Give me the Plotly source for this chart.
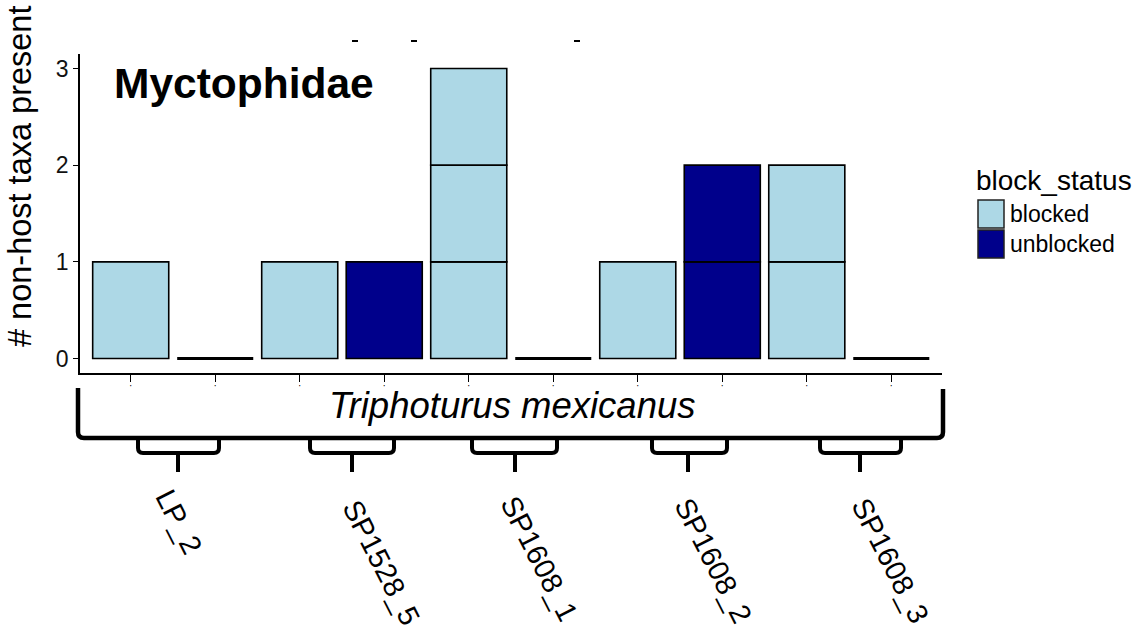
import plotly.graph_objects as go

# ---- data ----
samples = ["LP_2", "SP1528_5", "SP1608_1", "SP1608_2", "SP1608_3"]
statuses = ["blocked", "unblocked"]
blocked_counts = [1, 1, 3, 1, 2]
unblocked_counts = [0, 1, 0, 2, 0]
status_colors = {"blocked": "#ADD8E6", "unblocked": "#00008B"}
y_ticks = [0, 1, 2, 3]
panel_title = "Myctophidae"
species_label = "Triphoturus mexicanus"
y_title = "# non-host taxa present"
legend_title = "block_status"

# bar order: sample x status
bar_x, bar_status, bar_count = [], [], []
pos = 1
for s, b, u in zip(samples, blocked_counts, unblocked_counts):
    for st, c in (("blocked", b), ("unblocked", u)):
        bar_x.append(pos)
        bar_status.append(st)
        bar_count.append(c)
        pos += 1

FONT = "Liberation Sans, Arial, Helvetica, sans-serif"
W, H = 1139, 635
L, R, T, B = 80, 942, 54, 373  # plot area pixel box

def px(x):
    return (x - L) / (R - L)

def py(y):
    return (B - y) / (B - T)

def P(x, y):
    return f"{px(x):.5f},{py(y):.5f}"

fig = go.Figure()
BW = 0.9
max_c = max(bar_count)
for k in range(1, max_c + 1):
    xs = [x for x, c in zip(bar_x, bar_count) if c >= k]
    cols = [status_colors[s] for s, c in zip(bar_status, bar_count) if c >= k]
    fig.add_trace(go.Bar(
        x=xs, y=[1] * len(xs), base=[k - 1] * len(xs), width=BW,
        marker=dict(color=cols, line=dict(color="black", width=1.6)),
        showlegend=False, hoverinfo="skip",
    ))
# zero-height bars drawn as flat outlines
for x, c in zip(bar_x, bar_count):
    if c == 0:
        fig.add_trace(go.Scatter(
            x=[x - BW / 2, x + BW / 2], y=[0, 0], mode="lines",
            line=dict(color="black", width=3), showlegend=False, hoverinfo="skip",
        ))

shapes = []
# big bracket
big = (f"M {P(78,388)} L {P(78,432)} Q {P(78,438)} {P(84,438)} "
       f"L {P(937,438)} Q {P(943,438)} {P(943,432)} L {P(943,389)}")
shapes.append(dict(type="path", xref="paper", yref="paper", path=big,
                   line=dict(color="black", width=4.5)))
sub = [(138, 219, 178), (310, 394, 352), (472, 557, 515), (652, 727, 688), (820, 901, 860)]
for xl, xr, xs in sub:
    p = (f"M {P(xl,438)} L {P(xl,448)} Q {P(xl,453)} {P(xl+5,453)} "
         f"L {P(xr-5,453)} Q {P(xr,453)} {P(xr,448)} L {P(xr,438)}")
    shapes.append(dict(type="path", xref="paper", yref="paper", path=p,
                       line=dict(color="black", width=4)))
    shapes.append(dict(type="line", xref="paper", yref="paper",
                       x0=px(xs), x1=px(xs), y0=py(453), y1=py(472),
                       line=dict(color="black", width=4)))
# stray marks at top (remnants of panel above)
for xm in (355, 414, 577):
    shapes.append(dict(type="line", xref="paper", yref="paper",
                       x0=px(xm - 3), x1=px(xm + 3), y0=py(41), y1=py(41),
                       line=dict(color="black", width=2)))
# legend keys
for i, st in enumerate(statuses):
    y0 = 200 + i * 30
    shapes.append(dict(type="rect", xref="paper", yref="paper",
                       x0=px(978), x1=px(1004), y0=py(y0), y1=py(y0 + 28),
                       fillcolor=status_colors[st], line=dict(color="#222", width=1.5)))

ann = []
ann.append(dict(text=panel_title, xref="paper", yref="paper", x=px(112), y=py(83),
                xanchor="left", yanchor="middle", showarrow=False,
                font=dict(family=FONT, size=42.5, color="black", weight="bold")))
ann.append(dict(text=f"<i>{species_label}</i>", xref="paper", yref="paper",
                x=px(512), y=py(405), xanchor="center", yanchor="middle", showarrow=False,
                font=dict(family=FONT, size=36.5, color="black")))
ann.append(dict(text=y_title, xref="paper", yref="paper", x=px(20), y=py(177),
                xanchor="center", yanchor="middle", textangle=-90, showarrow=False,
                font=dict(family=FONT, size=32.5, color="black")))
ann.append(dict(text=legend_title, xref="paper", yref="paper", x=px(974), y=py(180),
                xanchor="left", yanchor="middle", showarrow=False,
                font=dict(family=FONT, size=28, color="black")))
for i, st in enumerate(statuses):
    ann.append(dict(text=st, xref="paper", yref="paper", x=px(1008), y=py(214 + i * 30),
                    xanchor="left", yanchor="middle", showarrow=False,
                    font=dict(family=FONT, size=23, color="black")))
label_centers = [(179, 522), (381, 562), (539, 558), (713, 560), (890, 560)]
for s, (cx, cy) in zip(samples, label_centers):
    ann.append(dict(text=s, xref="paper", yref="paper", x=px(cx), y=py(cy),
                    xanchor="center", yanchor="middle", textangle=63, showarrow=False,
                    font=dict(family=FONT, size=29, color="black")))

fig.update_layout(
    width=W, height=H, barmode="overlay",
    margin=dict(l=L, r=W - R, t=T, b=H - B, pad=0),
    paper_bgcolor="white", plot_bgcolor="white",
    shapes=shapes, annotations=ann, showlegend=False,
    xaxis=dict(range=[0.4, 10.6], tickmode="array", tickvals=bar_x,
               ticktext=["•"] * len(bar_x), tickfont=dict(size=5, color="black"),
               ticks="outside", ticklen=7, tickwidth=1.2, tickcolor="black",
               showline=True, linecolor="black", linewidth=1.6,
               showgrid=False, zeroline=False, fixedrange=True),
    yaxis=dict(range=[-0.15, 3.15], tickmode="array", tickvals=y_ticks,
               tickfont=dict(family=FONT, size=23, color="#111"),
               ticks="outside", ticklen=5, tickwidth=1.2, tickcolor="black",
               showline=True, linecolor="black", linewidth=1.6,
               showgrid=False, zeroline=False, fixedrange=True),
)
fig.write_html("out.html")
